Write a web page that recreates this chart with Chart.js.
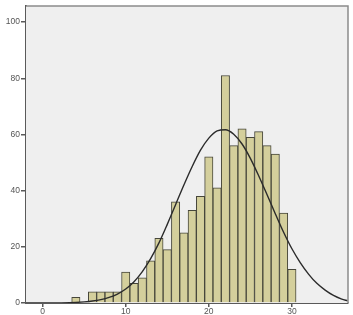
<!DOCTYPE html>
<html>
<head>
<meta charset="utf-8">
<script src="https://cdn.jsdelivr.net/npm/chart.js@4/dist/chart.umd.min.js"></script>
<style>
  html, body { margin: 0; padding: 0; background: #fff; }
  #wrap { width: 353px; height: 315px; }
</style>
</head>
<body>
<div id="wrap"><canvas id="histChart" width="353" height="315"></canvas></div>
<script>
// ===============================
// Data
// ===============================
const binCenters = [4, 5, 6, 7, 8, 9, 10, 11, 12, 13, 14, 15, 16, 17, 18, 19, 20, 21, 22, 23, 24, 25, 26, 27, 28, 29, 30];
const binCounts  = [2, 0, 4, 4, 4, 4, 11, 7, 9, 15, 23, 19, 36, 25, 33, 38, 52, 41, 81, 56, 62, 59, 61, 56, 53, 32, 12];

// normal curve, traced point by point
const curveX = [-2, 0, 2, 4, 5, 6, 7, 8, 9, 10, 11, 12, 13, 14, 15, 16, 17, 18, 19, 20, 21, 22, 23, 24, 25, 26, 27, 28, 29, 30, 31, 32, 33, 34, 35, 36, 36.7];
const curveY = [0, 0, 0.05, 0.2, 0.4, 0.7, 1.2, 2.0, 3.2, 5.0, 7.6, 11.2, 15.8, 21.4, 28, 35, 42, 48.6, 54.4, 58.7, 61.3, 61.7, 60.1, 56.6, 51.5, 45.3, 38.6, 31.8, 25.2, 19.3, 14.4, 10.3, 7.0, 4.6, 2.7, 1.4, 0.8];

// tick labels
const xTicks = [0, 10, 20, 30];
const yTicks = [0, 20, 40, 60, 80, 100];

// Plot background + top/right frame
const frame = {
  id: "frame",
  beforeDatasetsDraw(chart) {
    const { ctx, chartArea: a } = chart;
    ctx.save();
    ctx.fillStyle = "#efefef";
    ctx.fillRect(a.left, a.top, a.right - a.left, a.bottom - a.top);
    ctx.restore();
  },
  afterDraw(chart) {
    const { ctx, chartArea: a } = chart;
    ctx.save();
    ctx.strokeStyle = "#8c8c8c";
    ctx.lineWidth = 1.5;
    ctx.beginPath();
    ctx.moveTo(a.left, a.top);
    ctx.lineTo(a.right, a.top);
    ctx.lineTo(a.right, a.bottom);
    ctx.stroke();
    ctx.restore();
  }
};

const tickFont = { family: "Liberation Sans, Arial, sans-serif", size: 8.5 };

new Chart(document.getElementById("histChart"), {
  type: "bar",
  data: {
    datasets: [
      {
        type: "line",
        data: curveX.map((x, i) => ({ x, y: curveY[i] })),
        borderColor: "#2b2b2b",
        borderWidth: 1.4,
        pointRadius: 0,
        fill: false,
        cubicInterpolationMode: "monotone",
        order: 0
      },
      {
        type: "bar",
        data: binCenters.map((x, i) => ({ x, y: binCounts[i] })),
        backgroundColor: "#d4cf9c",
        borderColor: "#46463a",
        borderWidth: 1,
        barPercentage: 1,
        categoryPercentage: 1,
        order: 1
      }
    ]
  },
  options: {
    responsive: false,
    animation: false,
    layout: { padding: { top: 5, right: 5, left: 0, bottom: 0 } },
    plugins: { legend: { display: false }, tooltip: { enabled: false } },
    scales: {
      x: {
        type: "linear",
        min: -2,
        max: 36.75,
        offset: false,
        afterBuildTicks: s => { s.ticks = xTicks.map(v => ({ value: v })); },
        afterFit: s => { s.height = 12; },
        grid: { offset: false, drawOnChartArea: false, drawTicks: true, tickLength: 4, color: "#5a5a5a", lineWidth: 1.5 },
        border: { display: true, color: "#5a5a5a", width: 2 },
        ticks: { font: tickFont, color: "#555", padding: 0, maxRotation: 0 }
      },
      y: {
        type: "linear",
        min: 0,
        max: 105.7,
        afterBuildTicks: s => { s.ticks = yTicks.map(v => ({ value: v })); },
        afterFit: s => { s.width = 26; },
        grid: { drawOnChartArea: false, drawTicks: true, tickLength: 5, color: "#5a5a5a", lineWidth: 1.5 },
        border: { display: true, color: "#5a5a5a", width: 2 },
        ticks: { font: tickFont, color: "#555", padding: 1 }
      }
    }
  },
  plugins: [frame]
});
</script>
</body>
</html>
